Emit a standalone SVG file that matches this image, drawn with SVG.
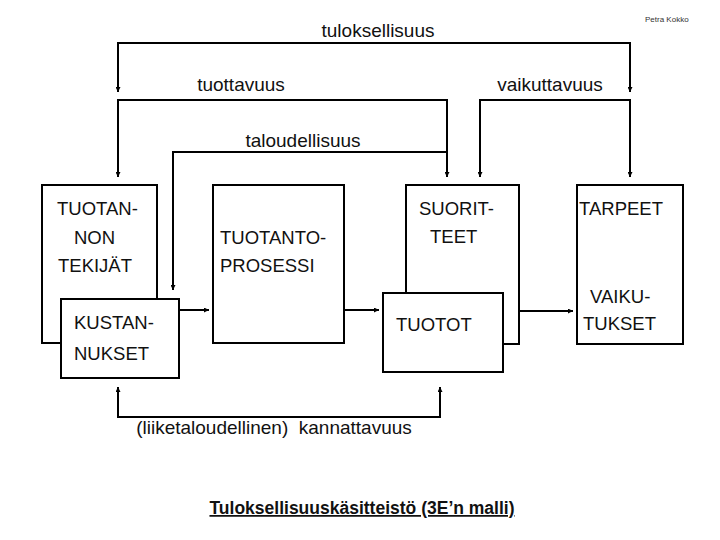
<svg xmlns="http://www.w3.org/2000/svg" width="720" height="540" viewBox="0 0 720 540">
<style>
.box{fill:#fff;stroke:#000;stroke-width:2}
.ln{fill:none;stroke:#000;stroke-width:2}
.t{font-family:"Liberation Sans",Arial,sans-serif;font-size:18.5px;fill:#111}
.lb{font-family:"Liberation Sans",Arial,sans-serif;font-size:19px;fill:#111}
</style>
<defs>
<marker id="ah" viewBox="0 0 10 10" refX="10" refY="5" markerWidth="5" markerHeight="5" markerUnits="userSpaceOnUse" orient="auto">
<path d="M0,0 L10,5 L0,10 z" fill="#000"/>
</marker>
</defs>
<rect width="720" height="540" fill="#fff"/>
<text x="645" y="22" font-family="'Liberation Sans',Arial,sans-serif" font-size="8" fill="#333">Petra Kokko</text>

<g id="connectors">
<path class="ln" d="M118,92 V43 H630 V92" marker-end="url(#ah)"/>
<path class="ln" d="M118,43 V92" marker-end="url(#ah)"/>
<path class="ln" d="M447,100 H118 V177" marker-end="url(#ah)"/>
<path class="ln" d="M118,100 H447 V177" marker-end="url(#ah)"/>
<path class="ln" d="M630,100 H480 V177" marker-end="url(#ah)"/>
<path class="ln" d="M480,100 H630 V177" marker-end="url(#ah)"/>
<path class="ln" d="M447,152 H173 V290" marker-end="url(#ah)"/>
<path class="ln" d="M179,310 H209" marker-end="url(#ah)"/>
<path class="ln" d="M344,310 H379" marker-end="url(#ah)"/>
<path class="ln" d="M519,311 H573" marker-end="url(#ah)"/>
<path class="ln" d="M440,417 H118 V387" marker-end="url(#ah)"/>
<path class="ln" d="M118,417 H440 V387" marker-end="url(#ah)"/>
</g>

<text class="lb" x="378" y="37" text-anchor="middle">tuloksellisuus</text>
<text class="lb" x="241" y="91" text-anchor="middle">tuottavuus</text>
<text class="lb" x="550" y="91" text-anchor="middle">vaikuttavuus</text>
<text class="lb" x="303" y="147" text-anchor="middle">taloudellisuus</text>
<text class="lb" x="274" y="434" text-anchor="middle" xml:space="preserve">(liiketaloudellinen)  kannattavuus</text>

<g id="tuotannontekijat">
<rect class="box" x="42" y="185" width="115" height="158"/>
<text class="t" x="57" y="215">TUOTAN-</text>
<text class="t" x="74" y="244">NON</text>
<text class="t" x="58" y="272">TEKIJÄT</text>
</g>
<g id="kustannukset">
<rect class="box" x="61" y="299" width="118" height="79"/>
<text class="t" x="74" y="329">KUSTAN-</text>
<text class="t" x="74" y="360">NUKSET</text>
</g>
<g id="tuotantoprosessi">
<rect class="box" x="213" y="185" width="131" height="158"/>
<text class="t" x="220" y="244">TUOTANTO-</text>
<text class="t" x="220" y="272">PROSESSI</text>
</g>
<g id="suoritteet">
<rect class="box" x="406" y="185" width="113" height="159"/>
<text class="t" x="419" y="215">SUORIT-</text>
<text class="t" x="430" y="243">TEET</text>
</g>
<g id="tuotot">
<rect class="box" x="383" y="293" width="120" height="79"/>
<text class="t" x="396" y="331">TUOTOT</text>
</g>
<g id="tarpeet">
<rect class="box" x="577" y="185" width="106" height="159"/>
<text class="t" x="579" y="215">TARPEET</text>
<text class="t" x="590" y="303">VAIKU-</text>
<text class="t" x="583" y="330">TUKSET</text>
</g>

<text x="362" y="514" text-anchor="middle" font-family="'Liberation Sans',Arial,sans-serif" font-size="17.5" font-weight="bold" text-decoration="underline" fill="#111">Tuloksellisuuskäsitteistö (3E’n malli)</text>
</svg>
